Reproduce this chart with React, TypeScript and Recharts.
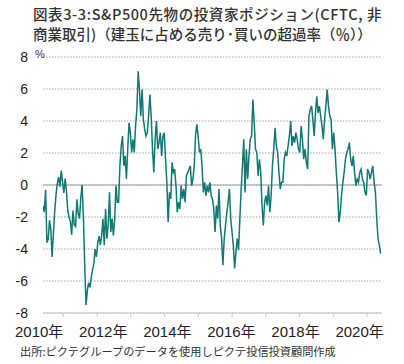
import React from 'react';
import { LineChart, Line, XAxis, YAxis, CartesianGrid, ReferenceLine } from 'recharts';

const TITLE_LINES = [
  '図表3-3:S&P500先物の投資家ポジション(CFTC, 非',
  '商業取引)（建玉に占める売り･買いの超過率（％））',
];
const SOURCE_NOTE = '出所:ピクテグループのデータを使用しピクテ投信投資顧問作成';
const UNIT_LABEL = '%';

// Biweekly observations, mid-2010 to mid-2020 (year fractions)
const START_YEAR = 2010.4;
const END_YEAR = 2020.4;

const VALUES_2010_2012 = [
  -1.3, -1.7, -0.3, -3.6, -3.4, -2.2, -2.8, -4.5, -3.0, -1.6, -0.6, 0.1, 0.5, -0.1, 0.9,
  0.2, -0.5, 0.4, -0.4, -1.6, -2.0, -2.3, -3.1, -1.6, -2.5, -2.6, -0.9, -1.8, -2.1, -0.8,
  0.0, -2.0, -5.0, -7.5, -6.6, -6.1, -6.4, -5.8, -5.3, -4.9, -4.0, -4.5, -3.6, -3.2, -3.75,
];
const VALUES_2012_2016 = [
  -3.15, -2.11, -3.77, -1.49, -3.35, -2.53, -0.46, -2.94, -2.11,
  -3.15, -2.11, -0.04, -1.08, -1.08, 1.2, 2.44, 3.06, 1.2, 1.82,
  0.37, 2.24, 3.89, 3.27, 2.03, 2.86, 2.03, 3.69, 4.72, 7.1,
  5.96, 4.31, 5.96, 4.1, 3.48, 3.06, 3.27, 4.31, 5.65, 4.31,
  2.24, 0.79, 2.86, 4.0, 2.24, 2.65, 3.27, 1.82, 3.06, 3.27,
  1.61, 0.17, -2.32, -0.46, -0.87, 1.41, 0.79, 0.99, -0.04, -1.7,
  -1.08, -1.49, -0.04, -0.87, -0.25, -1.08, 0.58, 0.79, 0.99, 1.2,
  -0.04, 0.37, 1.2, 3.06, 3.79, 3.06, 2.03, 2.24, 1.2, -0.46,
  0.17, -0.66, -0.04, -0.46, 0.17, -0.66, -0.87, -1.49, -2.94, -1.28,
  -2.11, -0.25, -2.53, -3.35, -5.01, -3.35, -2.53, -1.7, -1.08, -0.25,
  -2.11, -2.94, -3.77, -5.22, -4.18, -3.35, -4.08,
];
const VALUES_2016_2020 = [
  -2.11, -0.25, 1.2, 2.86, -0.46, 2.24, 0.37, 1.82, 2.86,
  3.06, 5.34, 3.89, 2.24, 2.03, 0.58, 1.61, 0.79, -1.28, -2.53,
  -1.08, -0.66, -1.28, -0.04, -1.7, -0.66, 1.2, 2.24, 3.58, 2.44,
  2.03, 0.79, -0.25, 0.17, 0.17, 1.61, 2.03, 1.82, 2.44, 3.06,
  4.0, 2.44, 3.06, 2.65, 3.27, 2.86, 2.24, 2.03, 3.69, 2.86,
  1.61, 2.24, 1.41, 0.99, 4.31, 4.72, 4.93, 4.1, 3.06, 4.51,
  5.55, 4.51, 4.93, 4.31, 3.69, 2.86, 4.1, 4.93, 5.96, 4.93,
  4.31, 4.1, 2.24, 3.27, 2.24, 0.79, -0.46, -2.32, -1.7, -0.66,
  0.17, 0.79, 1.61, 2.03, 2.24, 2.65, 1.61, 1.2, 1.82, 0.79,
  -0.04, 0.37, 0.17, 0.79, 0.99, 0.37, 0.17, -0.46, -0.66, 0.99,
  0.79, 0.37, 0.79, 1.2, 0.17, -0.46, -2.11, -3.35, -3.77, -4.29,
];

const YEAR_TICKS = [2011, 2012, 2013, 2014, 2015, 2016, 2017, 2018, 2019, 2020];
const LABEL_YEARS = [2010, 2012, 2014, 2016, 2018, 2020];
const Y_TICKS = [-8, -6, -4, -2, 0, 2, 4, 6, 8];

const VALUES = [...VALUES_2010_2012, ...VALUES_2012_2016, ...VALUES_2016_2020];
const data = VALUES.map((v, i) => ({
  t: START_YEAR + (i * (END_YEAR - START_YEAR)) / (VALUES.length - 1),
  v,
}));

const FONT = '"Liberation Sans", "Noto Sans CJK JP", sans-serif';
const TITLE_SPACING = [0.6, 0];

export default function App() {
  return (
    <div
      style={{
        position: 'absolute',
        left: 0,
        top: 0,
        width: 404,
        height: 364,
        background: '#fff',
        fontFamily: FONT,
        overflow: 'hidden',
      }}
    >
      <div
        style={{
          position: 'absolute',
          left: 33,
          top: 4,
          fontSize: 14.5,
          fontWeight: 500,
          lineHeight: '20px',
          color: '#333',
          whiteSpace: 'nowrap',
          fontFamily: '"Noto Sans CJK JP", sans-serif',
        }}
      >
        {TITLE_LINES.map((l, i) => (
          <div key={l} style={{ letterSpacing: TITLE_SPACING[i] }}>
            {l}
          </div>
        ))}
      </div>
      <div style={{ position: 'absolute', left: 0, top: 0 }}>
        <LineChart width={404} height={343} data={data} margin={{ top: 57, right: 22, bottom: 0, left: 0 }}>
          <CartesianGrid vertical={false} stroke="#a6a6a6" strokeDasharray="1.5 1.5" />
          <XAxis
            dataKey="t"
            type="number"
            domain={[2010.4, 2020.44]}
            allowDataOverflow
            ticks={YEAR_TICKS}
            interval={0}
            tickFormatter={() => ''}
            tickSize={4}
            height={8}
            axisLine={{ stroke: '#c8c8c8' }}
            tickLine={{ stroke: '#c8c8c8' }}
          />
          <XAxis
            xAxisId="lbl"
            dataKey="t"
            type="number"
            domain={[2010.12, 2020.7]}
            allowDataOverflow
            ticks={LABEL_YEARS}
            interval={0}
            tickFormatter={(y: number) => `${y}年`}
            axisLine={false}
            tickLine={false}
            tickSize={0}
            tickMargin={5}
            height={22}
            tick={{ fill: '#222', fontSize: 15 }}
          />
          <YAxis
            domain={[-8, 8]}
            ticks={Y_TICKS}
            interval={0}
            width={43}
            axisLine={false}
            tickLine={false}
            tickSize={0}
            tickMargin={15}
            tick={{ fill: '#222', fontSize: 14 }}
          />
          <YAxis
            yAxisId="r"
            orientation="right"
            width={0}
            domain={[-8, 8]}
            tick={false}
            tickLine={false}
            axisLine={{ stroke: '#c8c8c8' }}
          />
          <ReferenceLine y={0} stroke="#a0a0a0" />
          <Line
            dataKey="v"
            stroke="#117874"
            strokeWidth={1.5}
            dot={false}
            isAnimationActive={false}
          />
        </LineChart>
      </div>
      <span
        style={{
          position: 'absolute',
          left: 35,
          top: 48,
          fontSize: 11,
          color: '#333',
          lineHeight: '12px',
        }}
      >
        {UNIT_LABEL}
      </span>
      <div
        style={{
          position: 'absolute',
          left: 20,
          top: 344,
          fontSize: 11.2,
          lineHeight: '14px',
          color: '#333',
          whiteSpace: 'nowrap',
          fontFamily: '"Noto Sans CJK JP", sans-serif',
        }}
      >
        {SOURCE_NOTE}
      </div>
    </div>
  );
}
